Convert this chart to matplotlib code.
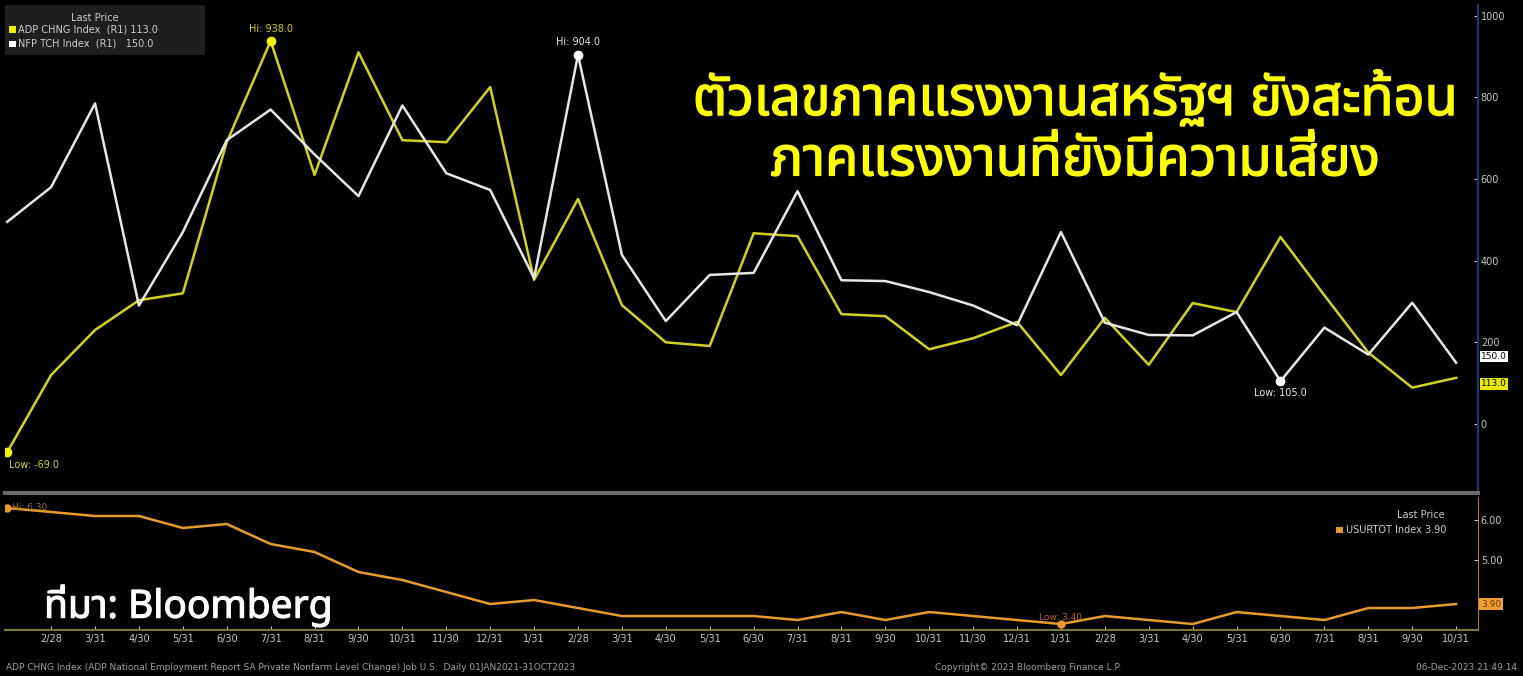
import matplotlib
matplotlib.use('Agg')
import matplotlib.pyplot as plt
import matplotlib.patheffects as pe
from matplotlib import font_manager
from matplotlib.ft2font import FT2Font

# Monatsenden Jan 2021 - Okt 2023
tick_labels = ['1/31', '2/28', '3/31', '4/30', '5/31', '6/30', '7/31', '8/31', '9/30', '10/31', '11/30', '12/31',
               '1/31', '2/28', '3/31', '4/30', '5/31', '6/30', '7/31', '8/31', '9/30', '10/31', '11/30', '12/31',
               '1/31', '2/28', '3/31', '4/30', '5/31', '6/30', '7/31', '8/31', '9/30', '10/31']

adp_chng = [-69, 120, 230, 303, 320, 690, 938, 610, 910, 695, 690, 825,
            353, 551, 291, 200, 191, 467, 460, 269, 264, 183, 210, 250,
            120, 260, 145, 296, 274, 458, 315, 175, 89, 113]

nfp_tch = [495, 580, 785, 290, 470, 695, 770, 660, 558, 780, 614, 573,
           357, 904, 414, 252, 365, 370, 570, 352, 350, 323, 290, 242,
           470, 248, 218, 217, 274, 105, 236, 170, 297, 150]

usurtot = [6.3, 6.2, 6.1, 6.1, 5.8, 5.9, 5.4, 5.2, 4.7, 4.5, 4.2, 3.9,
           4.0, 3.8, 3.6, 3.6, 3.6, 3.6, 3.5, 3.7, 3.5, 3.7, 3.6, 3.5,
           3.4, 3.6, 3.5, 3.4, 3.7, 3.6, 3.5, 3.8, 3.8, 3.9]

top_ticks = [0, 200, 400, 600, 800, 1000]
bottom_ticks = [5.0, 6.0]

# Schrift mit Thai-Zeichen suchen (ohne Schleifen bevorzugt)
thai_names = set()
for f in font_manager.fontManager.ttflist:
    try:
        if FT2Font(f.fname).get_char_index(ord('ต')):
            thai_names.add(f.name)
    except Exception:
        pass

def score(name):
    s = 0
    if 'Thai' in name:
        s += 2
    if 'Sans' in name:
        s += 2
    if 'Looped' in name or 'Serif' in name:
        s -= 3
    for good in ['Kanit', 'Prompt', 'Sarabun', 'Noto Sans Thai']:
        if good in name:
            s += 5
    return s

thai_font = max(sorted(thai_names), key=score) if thai_names else 'DejaVu Sans'

YELLOW = '#d2d21e'
WHITE = '#e6e6e6'
ORANGE = '#e89a2c'

x = list(range(len(adp_chng)))

fig = plt.figure(figsize=(15.23, 6.76), dpi=100, facecolor='black')
ax = fig.add_axes([0.0033, 0.2707, 0.9672, 0.7219], facecolor='black')
ax2 = fig.add_axes([0.0033, 0.068, 0.9672, 0.1968], facecolor='black')

# Oberes Diagramm
ax.plot(x, adp_chng, color=YELLOW, lw=1.8)
ax.plot(x, nfp_tch, color=WHITE, lw=1.8)
ax.set_xlim(-0.05, 33.5)
ax.set_ylim(-169, 1026)
ax.yaxis.tick_right()
ax.set_yticks(top_ticks)
ax.set_yticklabels([str(t) for t in top_ticks])
ax.tick_params(axis='y', colors='#c8c8c8', labelsize=7, length=3, direction='in', pad=2)
ax.set_xticks([])
for s in ['top', 'left']:
    ax.spines[s].set_visible(False)
ax.spines['right'].set_color('#1c3a6e')
ax.spines['right'].set_linewidth(1.5)
ax.spines['bottom'].set_color('#6a6a6a')
ax.spines['bottom'].set_linewidth(3)

# Hoch / Tief markieren
i_hi = adp_chng.index(max(adp_chng))
i_lo = adp_chng.index(min(adp_chng))
ax.plot(i_hi, adp_chng[i_hi], 'o', color='#f0f000', ms=6)
ax.text(i_hi, adp_chng[i_hi] + 18, f'Hi: {max(adp_chng):.1f}', color=YELLOW, fontsize=7, ha='center', va='bottom')
ax.plot(i_lo, adp_chng[i_lo], 'o', color='#f0f000', ms=6)
ax.text(i_lo + 0.05, adp_chng[i_lo] - 18, f'Low: {min(adp_chng):.1f}', color=YELLOW, fontsize=7, ha='left', va='top')
j_hi = nfp_tch.index(max(nfp_tch))
j_lo = nfp_tch.index(min(nfp_tch))
ax.plot(j_hi, nfp_tch[j_hi], 'o', color='white', ms=6)
ax.text(j_hi, nfp_tch[j_hi] + 18, f'Hi: {max(nfp_tch):.1f}', color=WHITE, fontsize=7, ha='center', va='bottom')
ax.plot(j_lo, nfp_tch[j_lo], 'o', color='white', ms=6)
ax.text(j_lo, nfp_tch[j_lo] - 18, f'Low: {min(nfp_tch):.1f}', color=WHITE, fontsize=7, ha='center', va='top')

# Letzte Werte an der Achse
ax.text(1.002, nfp_tch[-1] + 15, f'{nfp_tch[-1]:.1f}', transform=ax.get_yaxis_transform(), color='black',
        fontsize=6.5, va='center', ha='left', bbox=dict(boxstyle='square,pad=0.15', fc='white', ec='none'))
ax.text(1.002, adp_chng[-1] - 15, f'{adp_chng[-1]:.1f}', transform=ax.get_yaxis_transform(), color='black',
        fontsize=6.5, va='center', ha='left', bbox=dict(boxstyle='square,pad=0.15', fc='#e8e800', ec='none'))

# Legende oben links
fig.patches.append(plt.Rectangle((0.0033, 0.918), 0.131, 0.074, transform=fig.transFigure, fc='#1e1e1e', ec='none'))
fig.text(0.062, 0.974, 'Last Price', color='#cfcfcf', fontsize=7, ha='center', va='center')
fig.patches.append(plt.Rectangle((0.0062, 0.951), 0.0045, 0.010, transform=fig.transFigure, fc='#f0f000', ec='none'))
fig.text(0.012, 0.956, 'ADP CHNG Index  (R1) 113.0', color='#cfcfcf', fontsize=7, ha='left', va='center')
fig.patches.append(plt.Rectangle((0.0062, 0.930), 0.0045, 0.010, transform=fig.transFigure, fc='white', ec='none'))
fig.text(0.012, 0.935, 'NFP TCH Index  (R1)   150.0', color='#cfcfcf', fontsize=7, ha='left', va='center')

# Titel (leicht nachgezeichnet, da die Thai-Schrift evtl. keinen Bold-Schnitt hat)
bold_yellow = [pe.withStroke(linewidth=1.0, foreground='#ffff00')]
fig.text(0.706, 0.852, 'ตัวเลขภาคแรงงานสหรัฐฯ ยังสะท้อน', color='#ffff00', fontsize=39, fontweight='bold',
         ha='center', va='center', family=[thai_font, 'DejaVu Sans'], path_effects=bold_yellow)
fig.text(0.706, 0.762, 'ภาคแรงงานที่ยังมีความเสี่ยง', color='#ffff00', fontsize=39, fontweight='bold',
         ha='center', va='center', family=[thai_font, 'DejaVu Sans'], path_effects=bold_yellow)

# Unteres Diagramm
ax2.plot(x, usurtot, color=ORANGE, lw=1.8)
ax2.set_xlim(-0.05, 33.5)
ax2.set_ylim(3.25, 6.575)
ax2.yaxis.tick_right()
ax2.set_yticks(bottom_ticks)
ax2.set_yticklabels([f'{t:.2f}' for t in bottom_ticks])
ax2.tick_params(axis='y', colors='#c8c8c8', labelsize=7, length=3, direction='in', pad=2)
ax2.set_xticks(x[1:])
ax2.set_xticklabels(tick_labels[1:])
ax2.tick_params(axis='x', colors='#c8c8c8', labelsize=7, length=3, direction='in', pad=3)
for s in ['top', 'left']:
    ax2.spines[s].set_visible(False)
ax2.spines['right'].set_color('#b07a20')
ax2.spines['bottom'].set_color('#7a7a30')
ax2.spines['bottom'].set_linewidth(1.5)

k_hi = usurtot.index(max(usurtot))
k_lo = usurtot.index(min(usurtot))
ax2.plot(k_hi, usurtot[k_hi], 'o', color=ORANGE, ms=5)
ax2.text(k_hi + 0.1, usurtot[k_hi], f'Hi: {max(usurtot):.2f}', color='#a07020', fontsize=6.5, ha='left', va='center')
ax2.plot(k_lo, usurtot[k_lo], 'o', color=ORANGE, ms=5)
ax2.text(k_lo, usurtot[k_lo] + 0.05, f'Low: {min(usurtot):.2f}', color='#c06020', fontsize=6.5, ha='center', va='bottom')
ax2.text(1.002, usurtot[-1], f'{usurtot[-1]:.2f}', transform=ax2.get_yaxis_transform(), color='#803000',
         fontsize=6.5, va='center', ha='left', bbox=dict(boxstyle='square,pad=0.2', fc='#f0a030', ec='none'))

fig.text(0.933, 0.238, 'Last Price', color='#cfcfcf', fontsize=7, ha='center', va='center')
fig.patches.append(plt.Rectangle((0.8775, 0.211), 0.0045, 0.010, transform=fig.transFigure, fc=ORANGE, ec='none'))
fig.text(0.8835, 0.216, 'USURTOT Index 3.90', color='#cfcfcf', fontsize=7, ha='left', va='center')

fig.text(0.029, 0.104, 'ที่มา: Bloomberg', color='white', fontsize=28, fontweight='bold', ha='left', va='center',
         family=[thai_font, 'DejaVu Sans'], path_effects=[pe.withStroke(linewidth=0.8, foreground='white')])

# Fusszeile
fig.text(0.004, 0.012, 'ADP CHNG Index (ADP National Employment Report SA Private Nonfarm Level Change) Job U.S.  Daily 01JAN2021-31OCT2023',
         color='#a0a0a0', fontsize=6.5, ha='left', va='center')
fig.text(0.614, 0.012, 'Copyright© 2023 Bloomberg Finance L.P.', color='#a0a0a0', fontsize=6.5, ha='left', va='center')
fig.text(0.996, 0.012, '06-Dec-2023 21:49:14', color='#a0a0a0', fontsize=6.5, ha='right', va='center')

plt.savefig('out.png', dpi=100, facecolor='black')
plt.close()
